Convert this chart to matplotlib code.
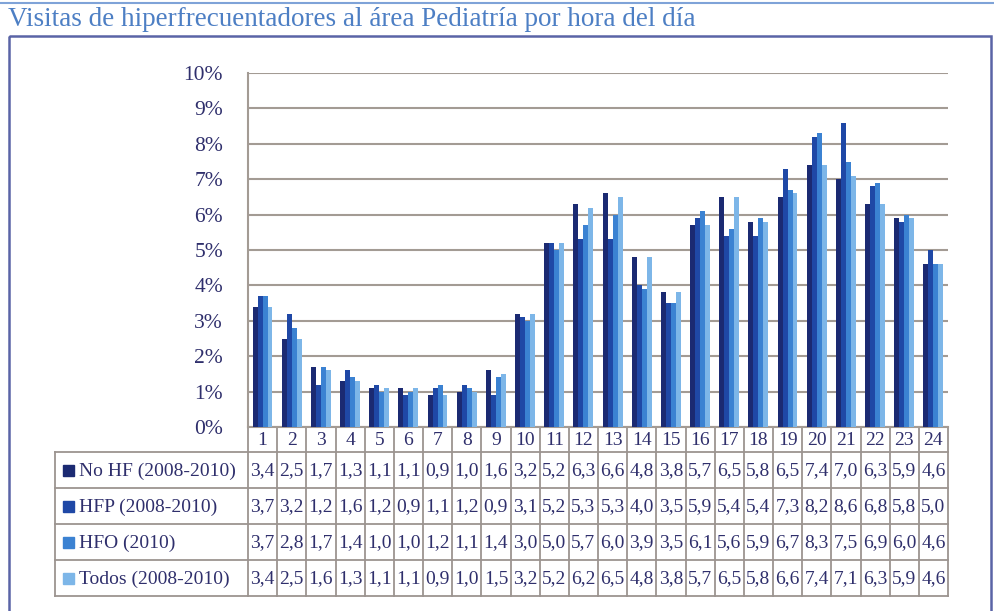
import matplotlib.pyplot as plt
from matplotlib.patches import Rectangle

hours = list(range(1, 25))
series = ['No HF (2008-2010)', 'HFP (2008-2010)', 'HFO (2010)', 'Todos (2008-2010)']
no_hf = [3.4, 2.5, 1.7, 1.3, 1.1, 1.1, 0.9, 1.0, 1.6, 3.2, 5.2, 6.3,
         6.6, 4.8, 3.8, 5.7, 6.5, 5.8, 6.5, 7.4, 7.0, 6.3, 5.9, 4.6]
hfp = [3.7, 3.2, 1.2, 1.6, 1.2, 0.9, 1.1, 1.2, 0.9, 3.1, 5.2, 5.3,
       5.3, 4.0, 3.5, 5.9, 5.4, 5.4, 7.3, 8.2, 8.6, 6.8, 5.8, 5.0]
hfo = [3.7, 2.8, 1.7, 1.4, 1.0, 1.0, 1.2, 1.1, 1.4, 3.0, 5.0, 5.7,
       6.0, 3.9, 3.5, 6.1, 5.6, 5.9, 6.7, 8.3, 7.5, 6.9, 6.0, 4.6]
todos = [3.4, 2.5, 1.6, 1.3, 1.1, 1.1, 0.9, 1.0, 1.5, 3.2, 5.2, 6.2,
         6.5, 4.8, 3.8, 5.7, 6.5, 5.8, 6.6, 7.4, 7.1, 6.3, 5.9, 4.6]
values = [no_hf, hfp, hfo, todos]
colors = ['#1b2a72', '#1f48a6', '#3b82d2', '#7db6e8']

W, H = 995, 611
serif = ['Liberation Serif', 'DejaVu Serif']
txt = '#2f2f6c'
grid = '#a39b94'

fig = plt.figure(figsize=(W / 100, H / 100), dpi=100)

# pixel-space overlay for frame, title and the data table
ov = fig.add_axes([0, 0, 1, 1])
ov.set_xlim(0, W)
ov.set_ylim(H, 0)
ov.axis('off')
ov.plot([0, W], [3, 3], color='#7fa3d8', lw=1.5)
ov.text(8, 20, 'Visitas de hiperfrecuentadores al área Pediatría por hora del día',
        fontsize=19.5, family=serif, color='#4d7fc4', va='center', ha='left')
ov.add_patch(Rectangle((9, 36), 982, 590, fill=False, ec='#5a64a6', lw=1.8))

# bar area
x0, x1, y_top, y_bot = 248, 948, 73, 427
ax = fig.add_axes([x0 / W, 1 - y_bot / H, (x1 - x0) / W, (y_bot - y_top) / H])
ax.set_xlim(0.5, 24.5)
ax.set_ylim(0, 10)
bw = 0.17
for i, (vals, c) in enumerate(zip(values, colors)):
    ax.bar([h + (i - 1.5) * bw for h in hours], vals, width=bw, color=c, zorder=3)
ax.set_yticks(range(0, 11))
ax.set_yticklabels([f'{t}%' for t in range(0, 11)], family=serif, fontsize=15.5, color=txt)
ax.tick_params(axis='y', length=0, pad=18)
ax.set_xticks([])
ax.yaxis.grid(True, color=grid, lw=1.5, zorder=0)
for s in ['top', 'right', 'bottom']:
    ax.spines[s].set_visible(False)
ax.spines['left'].set_color(grid)
ax.spines['left'].set_linewidth(1.5)
ax.set_facecolor('none')

# data table
cw = (x1 - x0) / 24
leg_x = 55
rows = [452, 488, 524, 560, 596]
lc = '#9c9490'
ov.plot([x0, x0], [y_bot, rows[-1]], color=lc, lw=1.3)
for k in range(1, 25):
    ov.plot([x0 + k * cw] * 2, [y_bot, rows[-1]], color=lc, lw=1.3)
ov.plot([leg_x, leg_x], [rows[0], rows[-1]], color=lc, lw=1.3)
ov.plot([x0, x1], [y_bot, y_bot], color=grid, lw=1.5)
for r in rows:
    ov.plot([leg_x, x1], [r, r], color=lc, lw=1.3)
for k, h in enumerate(hours):
    ov.text(x0 + (k + 0.5) * cw, (y_bot + rows[0]) / 2 + 1, str(h), ha='center',
            va='center', family=serif, fontsize=14, color=txt)
for j, (name, vals, c) in enumerate(zip(series, values, colors)):
    yc = (rows[j] + rows[j + 1]) / 2 + 1
    ov.add_patch(Rectangle((63, yc - 6), 11, 11, color=c))
    ov.text(79, yc, name, ha='left', va='center', family=serif, fontsize=14, color=txt)
    for k, v in enumerate(vals):
        ov.text(x0 + (k + 0.5) * cw, yc, f'{v:.1f}'.replace('.', ','), ha='center',
                va='center', family=serif, fontsize=14, color=txt)

fig.savefig('out.png', dpi=100, facecolor='white')
